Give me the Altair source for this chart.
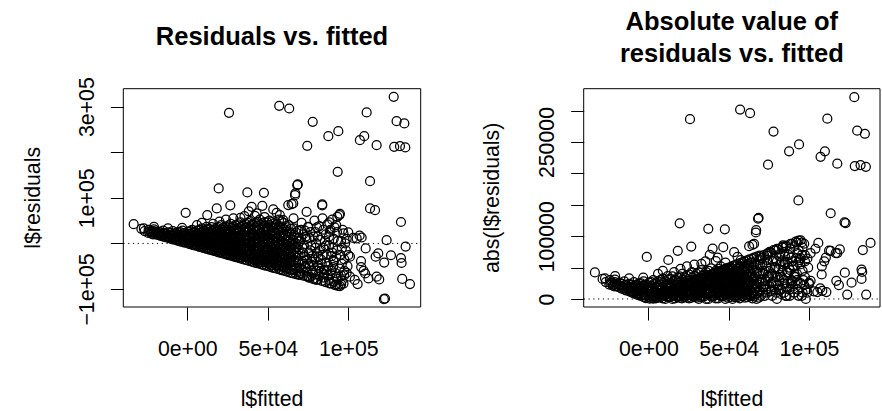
import altair as alt
import pandas as pd

FONT = "Liberation Sans"

# ---------------- data ----------------
# dense wedge of points
mass_fitted = [
    -27000, -26500,
    -24000, -23600, -24300,
    -21000, -20600, -21300, -20800,
    -18000, -17700, -18200,
    -15000, -14600, -15300, -14900,
    -12000, -11600, -12300, -11900,
    -9000, -8700, -9300, -8800, -9100,
    -6000, -5600, -6300, -5800, -6100,
    -3000, -2700, -3300, -2900, -3100, -2800,
    500, 800, 200, 600, 400, 700,
    3000, 3400, 2800, 3200, 3100, 2900, 3300,
    6000, 6300, 5800, 6200, 6100, 5900, 6400,
    9000, 9300, 8800, 9200, 9100, 8900, 9400, 9000,
    12000, 12300, 11800, 12200, 12100, 11900, 12400, 12000,
    15000, 15300, 14800, 15200, 15100, 14900, 15400, 15000, 15200,
    18000, 18300, 17800, 18200, 18100, 17900, 18400, 18000, 18300,
    21000, 21300, 20800, 21200, 21100, 20900, 21400, 21000, 21200, 20900,
    24000, 24300, 23800, 24200, 24100, 23900, 24400, 24000, 24200, 24100,
    27000, 27300, 26800, 27200, 27100, 26900, 27400, 27000, 27200, 26800, 27100,
    30000, 30300, 29800, 30200, 30100, 29900, 30400, 30000, 30200, 29800, 30100,
    33000, 33300, 32800, 33200, 33100, 32900, 33400, 33000, 33200, 32800, 33100, 32900,
    36000, 36300, 35800, 36200, 36100, 35900, 36400, 36000, 36200, 35800, 36100,
    39000, 39300, 38800, 39200, 39100, 38900, 39400, 39000, 39200, 38800, 39100, 38900,
    42000, 42300, 41800, 42200, 42100, 41900, 42400, 42000, 42200, 41800, 42100, 41900,
    45000, 45300, 44800, 45200, 45100, 44900, 45400, 45000, 45200, 44800, 45100, 44900, 45200,
    48000, 48300, 47800, 48200, 48100, 47900, 48400, 48000, 48200, 47800, 48100, 47900,
    51000, 51300, 50800, 51200, 51100, 50900, 51400, 51000, 51200, 50800, 51100, 50900, 51200,
    54000, 54300, 53800, 54200, 54100, 53900, 54400, 54000, 54200, 53800, 54100, 53900,
    57000, 57300, 56800, 57200, 57100, 56900, 57400, 57000, 57200, 56800, 57100, 56900, 57200,
    60000, 60300, 59800, 60200, 60100, 59900, 60400, 60000, 60200, 59800, 60100, 59900,
    63000, 63300, 62800, 63200, 63100, 62900, 63400, 63000, 63200, 62800, 63000,
    66000, 66300, 65800, 66200, 66100, 65900, 66400, 66000, 66200, 65800,
    69000, 69300, 68800, 69200, 69100, 68900, 69400, 69000, 69200,
]
mass_resid = [
    33000, 27000,
    30000, 25500, 23000,
    27000, 23500, 20000, 31000,
    26000, 21500, 18500,
    28000, 22000, 17500, 15000,
    24000, 19000, 15500, 12000,
    27000, 21000, 16000, 12000, 9000,
    25000, 19500, 13500, 9000, 6000,
    28000, 22000, 16000, 10500, 6000, 3000,
    26000, 20000, 14000, 8000, 3000, -500,
    30000, 24000, 17000, 11000, 5000, 500, -3000,
    28000, 21000, 14000, 8000, 2000, -3500, -6000,
    33000, 26000, 19000, 12000, 6000, -1000, -6500, -9000,
    31000, 24000, 17000, 10000, 3000, -4000, -9500, -12000,
    36000, 28000, 21000, 14000, 7000, 0, -7000, -12500, -15000,
    34000, 26000, 18000, 11000, 4000, -3000, -10000, -15500, -18000,
    40000, 31000, 23000, 15000, 8000, 1000, -6000, -12500, -18000, -21000,
    37000, 29000, 21000, 13000, 6000, -2000, -9000, -15500, -21000, -24000,
    43000, 34000, 26000, 17000, 9000, 2000, -5000, -12000, -18500, -24000, -27000,
    40000, 31000, 22000, 14000, 6000, -2000, -9000, -16000, -22500, -27500, -30000,
    46000, 37000, 28000, 19000, 11000, 3000, -5000, -12000, -19000, -25500, -30500, -33000,
    43000, 34000, 25000, 16000, 8000, 0, -8000, -16000, -23000, -29500, -36000,
    49000, 39000, 30000, 21000, 12000, 4000, -4000, -12000, -20000, -27000, -33500, -39000,
    45000, 35000, 26000, 17000, 9000, 1000, -8000, -16000, -24000, -31000, -37500, -42000,
    52000, 41000, 31000, 22000, 13000, 5000, -4000, -12000, -20000, -28000, -35500, -41500, -45000,
    47000, 37000, 27000, 18000, 9000, 0, -9000, -17000, -25000, -33000, -40500, -48000,
    50000, 40000, 30000, 21000, 12000, 3000, -6000, -14000, -22000, -30000, -38000, -45000, -51000,
    44000, 33000, 24000, 15000, 6000, -3000, -12000, -20000, -29000, -37000, -45000, -54000,
    52000, 38000, 27000, 17000, 8000, -1000, -10000, -19000, -28000, -36000, -44000, -51000, -57000,
    45000, 31000, 20000, 11000, 2000, -8000, -17000, -26000, -35000, -43000, -52000, -60000,
    40000, 25000, 14000, 4000, -6000, -15000, -25000, -34000, -44000, -53000, -63000,
    33000, 18000, 7000, -4000, -14000, -24000, -36000, -47000, -58000, -66000,
    28000, 12000, -2000, -13000, -27000, -40000, -54000, -62000, -69000,
]

# second, staggered layer of the dense wedge
mass2_fitted = [
    -22500, -22200,
    -19500, -19800,
    -16500, -16200, -16700,
    -13500, -13200, -13700,
    -10500, -10200, -10700, -10400,
    -7500, -7200, -7700, -7400,
    -4500, -4200, -4700, -4400, -4600,
    -1500, -1200, -1700, -1400, -1600,
    1700, 2000, 1500, 1800, 1600, 1900,
    4500, 4800, 4300, 4700, 4600, 4400,
    7500, 7800, 7300, 7700, 7600, 7400, 7500,
    10500, 10800, 10300, 10700, 10600, 10400, 10500,
    13500, 13800, 13300, 13700, 13600, 13400, 13700, 13500,
    16500, 16800, 16300, 16700, 16600, 16400, 16700, 16500,
    19500, 19800, 19300, 19700, 19600, 19400, 19700, 19300, 19500,
    22500, 22800, 22300, 22700, 22600, 22400, 22700, 22300, 22500,
    25500, 25800, 25300, 25700, 25600, 25400, 25700, 25300, 25600, 25500,
    28500, 28800, 28300, 28700, 28600, 28400, 28700, 28300, 28600, 28500,
    31500, 31800, 31300, 31700, 31600, 31400, 31700, 31300, 31600, 31400, 31500,
    34500, 34800, 34300, 34700, 34600, 34400, 34700, 34300, 34600, 34500,
    37500, 37800, 37300, 37700, 37600, 37400, 37700, 37300, 37600, 37400, 37500,
    40500, 40800, 40300, 40700, 40600, 40400, 40700, 40300, 40600, 40400, 40500,
    43500, 43800, 43300, 43700, 43600, 43400, 43700, 43300, 43600, 43400, 43700, 43500,
    46500, 46800, 46300, 46700, 46600, 46400, 46700, 46300, 46600, 46400, 46500,
    49500, 49800, 49300, 49700, 49600, 49400, 49700, 49300, 49600, 49400, 49700, 49500,
    52500, 52800, 52300, 52700, 52600, 52400, 52700, 52300, 52600, 52400, 52700, 52300, 52500,
    55500, 55800, 55300, 55700, 55600, 55400, 55700, 55300, 55600, 55400, 55700, 55500,
    58500, 58800, 58300, 58700, 58600, 58400, 58700, 58300, 58600, 58400, 58700, 58500,
    61500, 61800, 61300, 61700, 61600, 61400, 61700, 61300, 61600, 61400, 61700, 61500,
    64500, 64800, 64300, 64700, 64600, 64400, 64700, 64300, 64600, 64400, 64500,
    67500, 67800, 67300, 67700, 67600, 67400, 67700, 67300, 67500,
]
mass2_resid = [
    26000, 21500,
    24000, 20000,
    24000, 19500, 16500,
    22000, 17000, 13500,
    23000, 18000, 13000, 10500,
    22000, 16500, 11000, 7500,
    25000, 19000, 13000, 7500, 4500,
    23000, 17000, 11000, 5500, 1500,
    27000, 21000, 14000, 8000, 2000, -1700,
    25000, 18000, 11000, 5000, -1000, -4500,
    30000, 23000, 16000, 9000, 3000, -3000, -7500,
    28000, 21000, 14000, 7000, 0, -6000, -10500,
    32000, 25000, 17500, 10500, 3500, -3500, -10000, -13500,
    30000, 22000, 15000, 8000, 1000, -6000, -12500, -16500,
    36000, 27000, 19000, 12000, 5000, -2000, -9000, -15000, -19500,
    34000, 26000, 18000, 11000, 4000, -3000, -10000, -16500, -22500,
    39000, 30000, 22000, 14000, 7000, -1000, -8000, -15000, -21000, -25500,
    37000, 28000, 19000, 11000, 3500, -4000, -11000, -18000, -24000, -28500,
    42000, 33000, 25000, 16000, 8000, 0, -8000, -15000, -22000, -28000, -31500,
    39000, 30000, 21000, 12000, 4000, -4000, -12000, -19500, -26500, -34500,
    45000, 35000, 26000, 17000, 8000, 0, -8000, -16000, -24000, -31000, -37500,
    41000, 31000, 22000, 13000, 5000, -4000, -12000, -20000, -28000, -35000, -40500,
    48000, 38000, 28000, 19000, 10000, 1000, -8000, -16000, -24000, -32000, -39000, -43500,
    44000, 33000, 23000, 14000, 5000, -4000, -13000, -21000, -29000, -37000, -46500,
    46000, 35000, 25000, 16000, 7000, -2000, -11000, -19000, -27000, -35000, -42000, -49500,
    47000, 36000, 27000, 18000, 9000, 0, -9000, -17000, -25000, -33000, -41000, -48000, -52500,
    41000, 30000, 21000, 12000, 3000, -6000, -15000, -24000, -32000, -40000, -48000, -55500,
    48000, 35000, 24000, 14000, 5000, -4000, -13000, -22000, -31000, -40000, -48000, -58500,
    38000, 26000, 16000, 7000, -3000, -12000, -21000, -30000, -39000, -48000, -56000, -61500,
    32000, 20000, 9000, -1000, -10000, -20000, -30000, -40000, -50000, -58000, -64500,
    24000, 12000, 0, -9000, -20000, -31000, -43000, -55000, -67500,
]

# sparser points on the right-hand side
side_fitted = [
    71000, 72000, 72500, 73000, 73500, 74000, 70500, 71500, 70000, 70800,
    75000, 76000, 76500, 77000, 77500, 78000, 75500, 79000, 79500, 80000,
    80500, 81000, 81500, 80000, 82000, 82500, 83000, 84000, 84500, 85000,
    85500, 86000, 86500, 87000, 87500, 88000, 88500, 89000, 89500, 90000,
    90500, 91000, 91700, 92000, 92500, 93000, 93500, 94400, 94800, 95000,
    95500, 96000, 94800, 97000, 97500, 98000, 99000, 100000, 101000, 101000,
    103000, 104000, 105200, 105800, 107000, 108300, 107900, 108000, 109500, 110500,
    110800, 112500, 117600, 117000, 118600, 119200, 122300, 123800, 126500, 122100,
    122800, 132700, 133100, 133500, 135600, 138300, 132700, 113500, 116600, 83800,
    75100, 73000, 76000, 78500, 83000, 86600, 92800, 88200, 93200, 100000,
    90700, 90000, 70000, 72000, 74500, 76500, 79000, 81000, 83500, 84500,
    86000, 88000, 89500, 91000, 92500, 95500, 96000, 97500, 89000, 82000,
    78000, 74000, 71000, 85000, 93500, 97000, 72000, 74000, 77000, 79000,
    81000, 84000, 86000, 88000, 91000, 93000, 96000, 99000, 75000, 82000,
    71500, 73500, 74500, 75500, 76500, 77500, 78500, 79500, 80500, 81500,
    82500, 83500, 84500, 85500, 86500, 87500, 88500, 89500, 90500, 91500,
    92500, 93500, 94500, 95500, 96500, 97500, 98500, 99500, 72500, 80000,
]
side_resid = [
    45000, 20000, -5000, -30000, -52000, -72000, -65000, -40000, 5000, 30000,
    36000, 12000, -15000, -40000, -60000, -78000, -75000, 50000, 25000, 0,
    -22000, -48000, -68000, -80000, 38000, 8000, -35000, 55000, -10000, -58000,
    -84000, 20000, -42000, 42000, -70000, -5000, -88000, 30000, -28000, 52000,
    -52000, 10000, -91400, -65000, 40000, -15000, -93000, 62000, 65000, -25000,
    5000, -45000, -93600, 22000, -60000, 0, -64500, 24000, -29000, -73000,
    12000, -80000, 11000, -89300, 17000, 13000, -39000, -52000, -60000, -66000,
    -11000, -77000, -73000, -29000, -22000, -79000, -42000, 7000, -26000, -122100,
    -121000, -32000, -43000, -78000, -7000, -89300, 47000, 76700, 73000, 85500,
    36400, 28000, -50000, 15000, -60000, -58600, -73200, 46100, 58300, -25700,
    -36600, -20000, -68000, -70500, -73000, -74000, -77500, -79000, -82000, -75000,
    -85000, -80000, -88000, -84000, -90000, -90000, -82000, -70000, -66000, -72000,
    -65000, -62000, -55000, -68000, -78000, -88000, -20000, 10000, -5000, -35000,
    15000, -25000, -5000, 15000, -40000, 25000, -10000, 10000, -45000, -55000,
    -10000, 15000, -35000, -20000, 25000, -28000, -50000, -10000, 35000, -30000,
    -15000, -45000, 30000, 5000, -25000, -50000, 25000, -60000, -10000, 35000,
    -30000, 5000, -55000, -70000, 30000, -35000, -15000, -50000, -45000, -60000,
]

# points just above the dense wedge
upper_fitted = [
    -33300, -28500, -20700, -3200, -1000, 12400, 18300, 26700, 12000, 40000,
    38200, 46600, 43100, 53400, 55500, 59600, 62700, 65800, 64800, 66900,
    68300, 74100, 83800, 28600, 33000, 20000, 6000, 48000, 35500, 24000,
    57500, 66000, 9000, -12000, 16000, 42000,
]
upper_resid = [
    42300, 32000, 36400, 34200, 67000, 62100, 76700, 83500, 36400, 80300,
    70500, 82500, 65800, 74600, 67100, 51100, 84000, 87700, 86200, 105900,
    127800, 69300, 83300, 54800, 56000, 48000, 40000, 58000, 60000, 52000,
    62000, 55000, 45000, 33000, 43000, 60500,
]

# large residuals
outlier_fitted = [
    25900, 57100, 63300, 77900, 74500, 87600, 93800, 111400, 107200, 109900,
    117600, 128200, 130000, 134800, 128500, 132100, 135400, 93400, 113500, 68600,
    67100, 19500, 37300, 47600,
]
outlier_resid = [
    286400, 301800, 296000, 266700, 214000, 235300, 246300, 287300, 226500, 235300,
    215600, 321500, 268200, 263200, 211800, 213400, 210500, 157000, 136600, 129400,
    109600, 120600, 111800, 111000,
]

# axis ticks and their printed labels ('' = tick without label, as R drops overlapping ones)
x_ticks = [0, 50000, 100000]
x_labels = ["0e+00", "5e+04", "1e+05"]
left_y_ticks = [-100000, 0, 100000, 200000, 300000]
left_y_labels = ["\u22121e+05", "", "1e+05", "", "3e+05"]
right_y_ticks = [0, 50000, 100000, 150000, 200000, 250000, 300000]
right_y_labels = ["0", "", "100000", "", "", "250000", ""]

left_title = "Residuals vs. fitted"
right_title = ["Absolute value of", "residuals vs. fitted"]
x_title = "l$fitted"
left_y_title = "l$residuals"
right_y_title = "abs(l$residuals)"

# ---------------- layout ----------------
W, H = 882, 411
LX0, LX1 = 123.3, 420.7
RX0, RX1 = 583.7, 880.0
Y0, Y1 = 88.7, 307.0
LABEL_SIZE = 21.3
TITLE_SIZE = 25.5

fitted = mass_fitted + mass2_fitted + side_fitted + upper_fitted + outlier_fitted
residuals = mass_resid + mass2_resid + side_resid + upper_resid + outlier_resid
df = pd.DataFrame({"fitted": fitted, "residuals": residuals})
df["abs_residuals"] = df["residuals"].abs()


def label_expr(values, labels):
    parts = [f"datum.value === {v} ? '{t}'" for v, t in zip(values, labels)]
    return " : ".join(parts) + " : ''"


common_axis = dict(
    domain=False, grid=False, ticks=True, tickSize=13, tickColor="black", tickWidth=1,
    labelFont=FONT, labelFontSize=LABEL_SIZE, labelColor="black",
    labelOverlap=False, labelFlush=False, labelBound=False, title=None,
)

lx = alt.Scale(domain=[-39750, 144970], range=[LX0, LX1], nice=False, zero=False)
ly = alt.Scale(domain=[-139500, 339400], range=[Y1, Y0], nice=False, zero=False)
rx = alt.Scale(domain=[-40270, 144200], range=[RX0, RX1], nice=False, zero=False)
ry = alt.Scale(domain=[-12750, 335000], range=[Y1, Y0], nice=False, zero=False)

x_axis_kw = dict(orient="bottom", offset=Y1 - H, values=x_ticks,
                 labelExpr=label_expr(x_ticks, x_labels), labelAngle=0,
                 labelAlign="center", labelBaseline="alphabetic", labelPadding=35.5,
                 **common_axis)
lx_axis = alt.Axis(**x_axis_kw)
rx_axis = alt.Axis(**x_axis_kw)
ly_axis = alt.Axis(orient="left", offset=-LX0, values=left_y_ticks,
                   labelExpr=label_expr(left_y_ticks, left_y_labels), labelAngle=270,
                   labelAlign="center", labelBaseline="alphabetic", labelPadding=16.5,
                   **common_axis)
ry_axis = alt.Axis(orient="left", offset=-RX0, values=right_y_ticks,
                   labelExpr=label_expr(right_y_ticks, right_y_labels), labelAngle=270,
                   labelAlign="center", labelBaseline="alphabetic", labelPadding=17,
                   **common_axis)

one = pd.DataFrame({"zero": [0]})

point_style = dict(shape="circle", filled=False, color="black", size=80,
                   strokeWidth=1.25, opacity=1)

left_pts = alt.Chart(df).mark_point(**point_style).encode(
    x=alt.X("fitted:Q", scale=lx, axis=lx_axis),
    y=alt.Y("residuals:Q", scale=ly, axis=ly_axis),
)
right_pts = alt.Chart(df).mark_point(**point_style).encode(
    x=alt.X("fitted:Q", scale=rx, axis=rx_axis),
    y=alt.Y("abs_residuals:Q", scale=ry, axis=ry_axis),
)

dot = dict(color="black", strokeWidth=1, strokeDash=[1.2, 3.6])
left_zero = alt.Chart(one).mark_rule(**dot).encode(
    y=alt.Y("zero:Q", scale=ly, axis=None), x=alt.value(LX0), x2=alt.value(LX1))
right_zero = alt.Chart(one).mark_rule(**dot).encode(
    y=alt.Y("zero:Q", scale=ry, axis=None), x=alt.value(RX0), x2=alt.value(RX1))

box_style = dict(fillOpacity=0, stroke="black", strokeWidth=1)
left_box = alt.Chart(one).mark_rect(**box_style).encode(
    x=alt.value(LX0), x2=alt.value(LX1), y=alt.value(Y0), y2=alt.value(Y1))
right_box = alt.Chart(one).mark_rect(**box_style).encode(
    x=alt.value(RX0), x2=alt.value(RX1), y=alt.value(Y0), y2=alt.value(Y1))


def text(t, x, y, size=LABEL_SIZE, bold=False, angle=0):
    return alt.Chart(one).mark_text(
        text=t, font=FONT, fontSize=size, fontWeight="bold" if bold else "normal",
        color="black", align="center", baseline="alphabetic", angle=angle,
    ).encode(x=alt.value(x), y=alt.value(y))


texts = [
    text(left_title, (LX0 + LX1) / 2, 45, TITLE_SIZE, True),
    text(right_title[0], (RX0 + RX1) / 2, 30, TITLE_SIZE, True),
    text(right_title[1], (RX0 + RX1) / 2, 61.5, TITLE_SIZE, True),
    text(x_title, (LX0 + LX1) / 2, 406, LABEL_SIZE),
    text(x_title, (RX0 + RX1) / 2, 406, LABEL_SIZE),
    text(left_y_title, 40, (Y0 + Y1) / 2, LABEL_SIZE, angle=270),
    text(right_y_title, 499, (Y0 + Y1) / 2, LABEL_SIZE, angle=270),
]

chart = alt.layer(
    left_box, right_box, left_zero, right_zero, left_pts, right_pts, *texts
).resolve_scale(
    x="independent", y="independent"
).resolve_axis(
    x="independent", y="independent"
).properties(
    width=W, height=H, padding=0,
    autosize=alt.AutoSizeParams(type="none"),
    background="white",
).configure_view(stroke=None)

chart.save("out.html", embed_options={"renderer": "svg", "actions": False})
